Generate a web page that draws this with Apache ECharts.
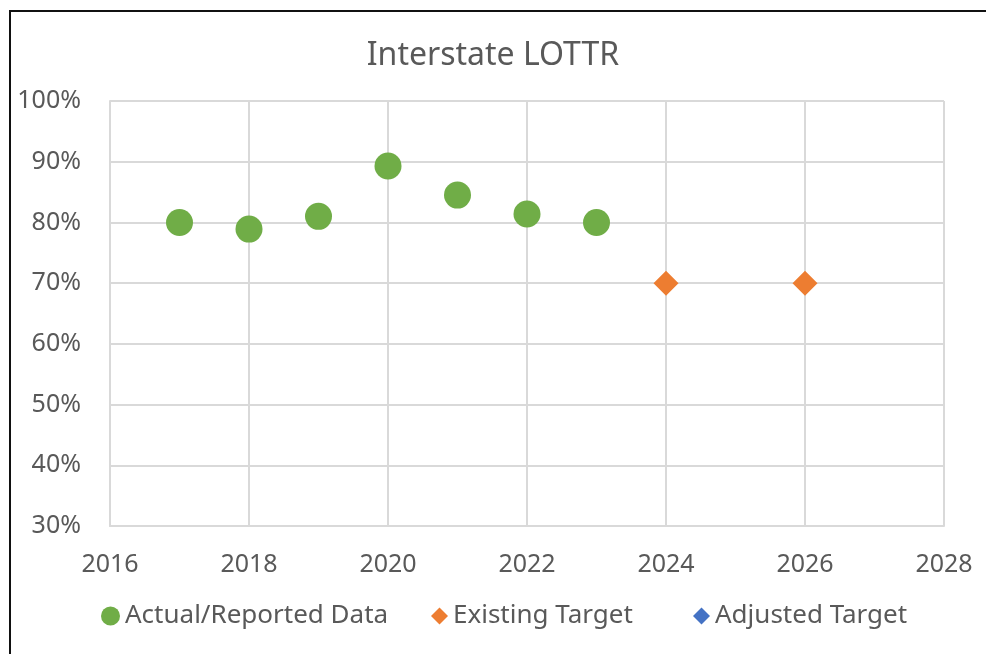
<!DOCTYPE html>
<html>
<head>
<meta charset="utf-8">
<script src="https://cdn.jsdelivr.net/npm/echarts@6/dist/echarts.min.js"></script>
<style>
  html, body { margin: 0; padding: 0; background: #fff; }
  #frame {
    position: absolute; left: 9px; top: 10px; width: 977px; height: 644px;
    border-left: 2px solid #111; border-top: 2px solid #111;
  }
  #container { position: absolute; left: 0; top: 0; width: 986px; height: 654px; }
</style>
</head>
<body>
<div id="frame"></div>
<div id="container"></div>
<script>
// Interstate LOTTR
let years = [2017, 2018, 2019, 2020, 2021, 2022, 2023];
let actual = [80.0, 78.9, 81.0, 89.3, 84.5, 81.4, 80.0];
let targetYears = [2024, 2026];
let existing = [70, 70];
let adjusted = [];
let seriesNames = ['Actual/Reported Data', 'Existing Target', 'Adjusted Target'];
let legendIcons = ['circle', 'diamond', 'diamond'];

let font = 'Noto Sans';
let dom = document.getElementById("container");
let myChart = echarts.init(dom);

// one legend per entry, so the spacing can follow the original
let legendLeft = [96, 426, 688];
let legends = seriesNames.map((n, i) => ({
    left: legendLeft[i],
    top: 598,
    itemWidth: i === 0 ? 19 : 17,
    itemHeight: i === 0 ? 19 : 17,
    textStyle: { color: '#595959', fontSize: 26, fontFamily: font },
    data: [{ name: n, icon: legendIcons[i] }]
}));

let option = {
    animation: false,
    title: {
        text: 'Interstate LOTTR',
        left: 'center',
        top: 35,
        textStyle: { color: '#595959', fontSize: 32, fontWeight: 'normal', fontFamily: font }
    },
    legend: legends,
    grid: {
        left: 110,
        right: 42,
        top: 101,
        bottom: 128
    },
    xAxis: {
        type: 'value',
        min: 2016,
        max: 2028,
        interval: 2,
        axisLine: { show: true, lineStyle: { color: '#d9d9d9', width: 2 } },
        axisTick: { show: false },
        splitLine: { show: true, lineStyle: { color: '#d9d9d9', width: 2 } },
        axisLabel: { color: '#595959', fontSize: 25, fontFamily: font, margin: 26, formatter: v => String(v) }
    },
    yAxis: {
        type: 'value',
        min: 30,
        max: 100,
        interval: 10,
        axisLine: { show: true, lineStyle: { color: '#d9d9d9', width: 2 } },
        axisTick: { show: false },
        splitLine: { show: true, lineStyle: { color: '#d9d9d9', width: 2 } },
        axisLabel: { color: '#595959', fontSize: 25, fontFamily: font, margin: 29, formatter: '{value}%' }
    },
    series: [
        {
            name: seriesNames[0],
            type: 'scatter',
            symbol: 'circle',
            symbolSize: 27,
            itemStyle: { color: '#70ad47', opacity: 1 },
            data: years.map((y, i) => [y, actual[i]])
        },
        {
            name: seriesNames[1],
            type: 'scatter',
            symbol: 'diamond',
            symbolSize: [25, 25],
            itemStyle: { color: '#ed7d31', opacity: 1 },
            data: targetYears.map((y, i) => [y, existing[i]])
        },
        {
            name: seriesNames[2],
            type: 'scatter',
            symbol: 'diamond',
            symbolSize: [25, 25],
            itemStyle: { color: '#4472c4', opacity: 1 },
            data: adjusted
        }
    ]
};
myChart.setOption(option, true);
window.onresize = function () {
    myChart.resize();
};
</script>
</body>
</html>
